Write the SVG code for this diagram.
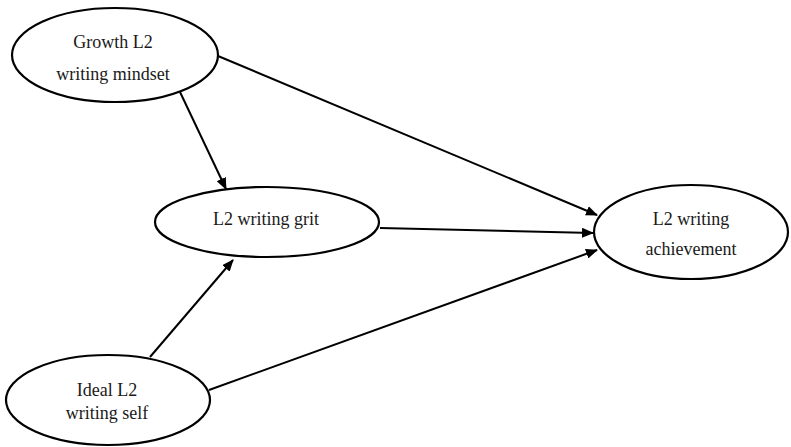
<svg xmlns="http://www.w3.org/2000/svg" width="791" height="447" viewBox="0 0 791 447">
  <style>
    .node ellipse { fill: #ffffff; stroke: #000000; stroke-width: 2.2; }
    .node text { font-family: "Liberation Serif", "Times New Roman", serif; font-size: 18px; fill: #1a1a1a; text-anchor: middle; }
    #connectors line { stroke: #000000; stroke-width: 2; marker-end: url(#arrow); }
  </style>
  <defs>
    <marker id="arrow" viewBox="0 0 12 10" refX="11" refY="5" markerWidth="12" markerHeight="10" markerUnits="userSpaceOnUse" orient="auto">
      <path d="M0,0 L12,5 L0,10 Z" fill="#000000"/>
    </marker>
  </defs>
  <rect width="791" height="447" fill="#ffffff"/>

  <g id="connectors">
    <line x1="218" y1="56" x2="597" y2="215"/>
    <line x1="180" y1="92" x2="226" y2="189"/>
    <line x1="380" y1="228" x2="593" y2="233"/>
    <line x1="150" y1="357" x2="233" y2="260"/>
    <line x1="209" y1="390" x2="597" y2="250"/>
  </g>

  <g id="growth" class="node">
    <ellipse cx="115" cy="55" rx="103" ry="47"/>
    <text x="113" y="48">Growth L2</text>
    <text x="113" y="80">writing mindset</text>
  </g>

  <g id="grit" class="node">
    <ellipse cx="267" cy="222" rx="112" ry="35"/>
    <text x="266" y="225">L2 writing grit</text>
  </g>

  <g id="achievement" class="node">
    <ellipse cx="691" cy="232" rx="97" ry="47"/>
    <text x="691" y="225">L2 writing</text>
    <text x="691" y="255">achievement</text>
  </g>

  <g id="ideal" class="node">
    <ellipse cx="108" cy="400" rx="102" ry="45"/>
    <text x="107" y="396">Ideal L2</text>
    <text x="107" y="419">writing self</text>
  </g>
</svg>
